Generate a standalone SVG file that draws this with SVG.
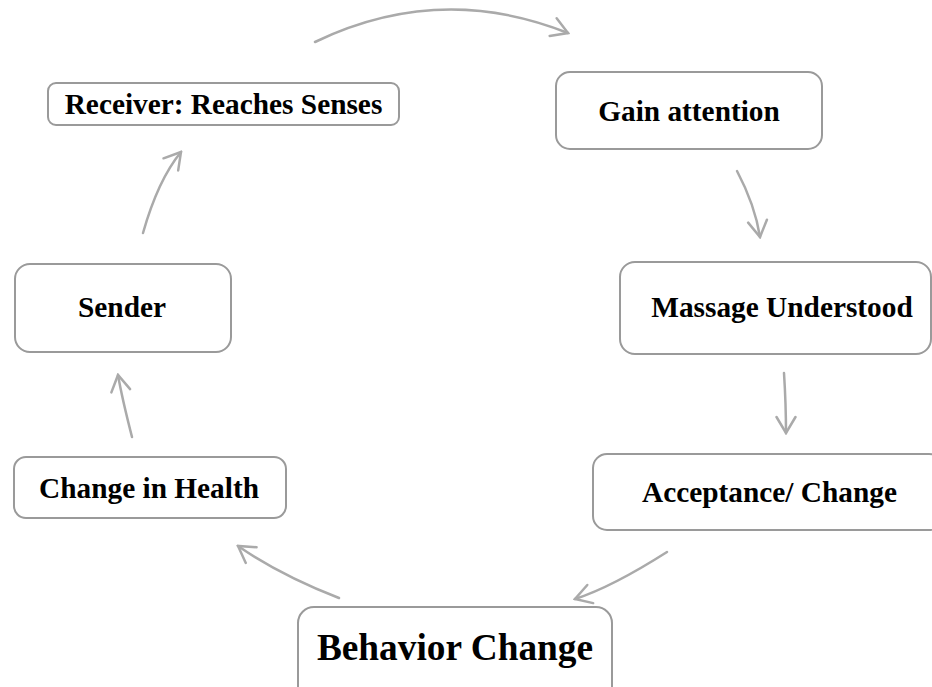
<svg xmlns="http://www.w3.org/2000/svg" width="932" height="687" viewBox="0 0 932 687">
<style>
.box{fill:#ffffff;stroke:#9a9a9a;stroke-width:2}
.lbl{font-family:"Liberation Serif","Times New Roman",serif;font-weight:bold;font-size:29.33px;fill:#000;text-anchor:middle}
.big{font-size:37.33px}
.arr{fill:none;stroke:#aaaaaa;stroke-width:2.5;stroke-linecap:round;marker-end:url(#chev)}
</style>
<defs>
<marker id="chev" viewBox="-20 -12 22 24" refX="0" refY="0" markerWidth="22" markerHeight="24" markerUnits="userSpaceOnUse" orient="auto">
<path d="M-16,-9.5 L0,0 L-16,9.5" fill="none" stroke="#aaaaaa" stroke-width="2.5" stroke-linecap="round" stroke-linejoin="miter"/>
</marker>
</defs>
<rect width="932" height="687" fill="#ffffff"/>
<g id="connectors">
<path class="arr" d="M315,42 Q440,-18 568,33"/>
<path class="arr" d="M737,171 Q755,205 760,237"/>
<path class="arr" d="M784,373 Q786,405 786,433"/>
<path class="arr" d="M667,552 Q612,587 575,599"/>
<path class="arr" d="M339,598 Q280,575 238,546"/>
<path class="arr" d="M132,437 Q122,398 118,375"/>
<path class="arr" d="M143,233 Q158,180 181,152"/>
</g>
<g id="node-receiver">
<rect class="box" x="48" y="83" width="351" height="42" rx="8"/>
<text class="lbl" x="223.5" y="114">Receiver: Reaches Senses</text>
</g>
<g id="node-gain">
<rect class="box" x="556" y="72" width="266" height="77" rx="14"/>
<text class="lbl" x="689" y="121">Gain attention</text>
</g>
<g id="node-massage">
<rect class="box" x="620" y="262" width="311" height="92" rx="15"/>
<text class="lbl" x="782" y="317">Massage Understood</text>
</g>
<g id="node-acceptance">
<rect class="box" x="593" y="454" width="350" height="76" rx="14"/>
<text class="lbl" x="769.5" y="502">Acceptance/ Change</text>
</g>
<g id="node-behavior">
<rect class="box" x="298" y="607" width="314" height="95" rx="16"/>
<text class="lbl big" x="455" y="660">Behavior Change</text>
</g>
<g id="node-health">
<rect class="box" x="14" y="457" width="272" height="61" rx="12"/>
<text class="lbl" x="149" y="498">Change in Health</text>
</g>
<g id="node-sender">
<rect class="box" x="15" y="264" width="216" height="88" rx="15"/>
<text class="lbl" x="122" y="317">Sender</text>
</g>
</svg>
